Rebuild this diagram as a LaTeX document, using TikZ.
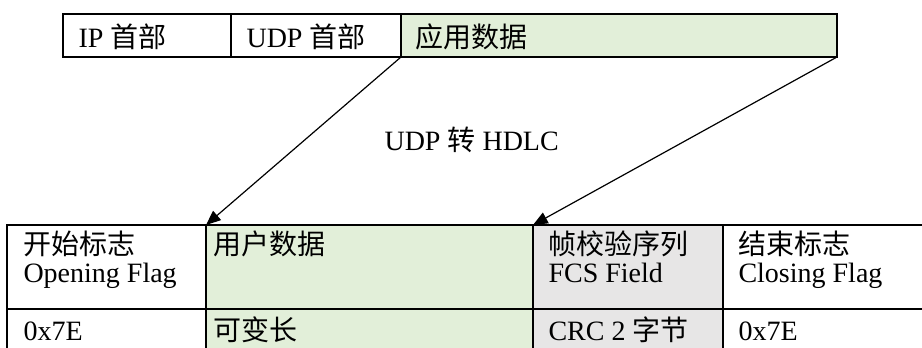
\documentclass[tikz,border=0pt]{standalone}
\usepackage{fontspec}
\setmainfont{Liberation Serif}
\newfontfamily\cjk{Noto Sans CJK SC}
\usetikzlibrary{positioning}
\usetikzlibrary{arrows.meta}
\definecolor{appgreen}{HTML}{E2EFD9}
\definecolor{fcsgray}{HTML}{E7E6E6}
\tikzset{
    cellw/.style = {rectangle, draw=black, line width=0.8pt, anchor=north west, inner sep=0pt, outer sep=0pt, fill=white},
    cellg/.style = {cellw, fill=appgreen}, % user data
    cellr/.style = {cellw, fill=fcsgray}, % fcs
    txt/.style = {anchor=base west, inner sep=0pt, font=\fontsize{10.5}{12}\selectfont, text=black},
    edgea/.style = {-{Triangle[length=5.5pt,width=4.5pt]}, line width=0.45pt, black},
}
\begin{document}
\begin{tikzpicture}[x=0.375pt,y=-0.375pt]

\path[use as bounding box] (0,0) rectangle (922,347);
%
% UDP packet
\node[cellw, minimum width=63pt, minimum height=16.125pt] at (63,14) (ip) {};
\node[cellw, minimum width=63.75pt, minimum height=16.125pt] at (231,14) (udp) {};
\node[cellg, minimum width=163.5pt, minimum height=16.125pt] at (401,14) (app) {};
\node[txt] at (78,47) (ipt) {IP {\cjk 首部}};
\node[txt] at (246,47) (udpt) {UDP {\cjk 首部}};
\node[txt] at (415,47) (appt) {\cjk 应用数据};
%
% HDLC frame
\node[cellw, minimum width=74.625pt, minimum height=31.5pt] at (7,225) (open) {};
\node[cellg, minimum width=122.625pt, minimum height=31.5pt] at (206,225) (data) {};
\node[cellr, minimum width=71.25pt, minimum height=31.5pt] at (533,225) (fcs) {};
\node[cellw, minimum width=77.625pt, minimum height=31.5pt] at (723,225) (close) {};
\node[cellw, minimum width=74.625pt, minimum height=19.125pt] at (7,309) (openb) {};
\node[cellg, minimum width=122.625pt, minimum height=19.125pt] at (206,309) (datab) {};
\node[cellr, minimum width=71.25pt, minimum height=19.125pt] at (533,309) (fcsb) {};
\node[cellw, minimum width=77.625pt, minimum height=19.125pt] at (723,309) (closeb) {};
%
\node[txt] at (23,254) (opent) {\cjk 开始标志};
\node[txt] at (23,282) (openf) {Opening Flag};
\node[txt] at (23,340) (openv) {0x7E};
\node[txt] at (213,254) (datat) {\cjk 用户数据};
\node[txt] at (213,340) (datav) {\cjk 可变长};
\node[txt] at (548,254) (fcst) {\cjk 帧校验序列};
\node[txt] at (548,282) (fcsf) {FCS Field};
\node[txt] at (548,340) (fcsv) {CRC 2 {\cjk 字节}};
\node[txt] at (738,254) (closet) {\cjk 结束标志};
\node[txt] at (738,282) (closef) {Closing Flag};
\node[txt] at (738,340) (closev) {0x7E};
%
\node[txt] at (384,150) (conv) {UDP {\cjk 转} HDLC};
%
\draw[edgea] (app.south west) -- (data.north west);
\draw[edgea] (app.south east) -- (fcs.north west);

\end{tikzpicture}
\end{document}
